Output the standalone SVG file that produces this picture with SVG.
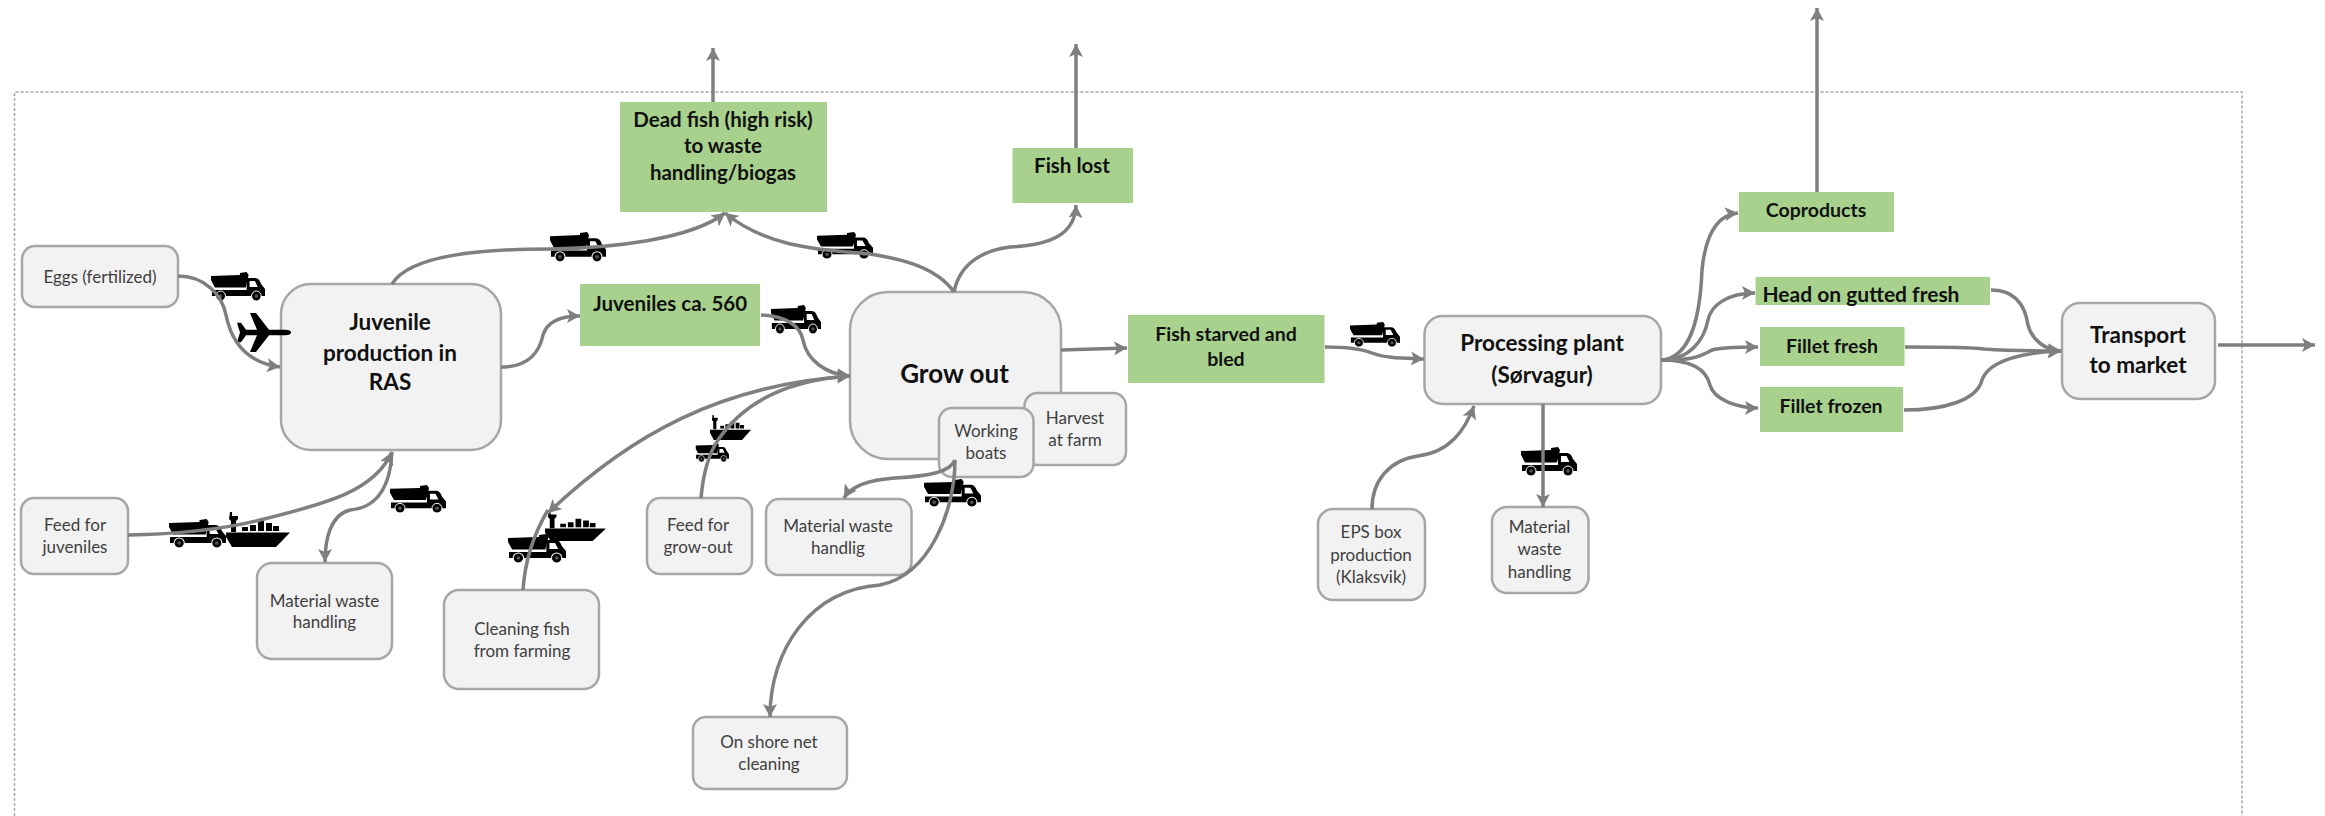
<svg xmlns="http://www.w3.org/2000/svg" width="2325" height="816" viewBox="0 0 2325 816">
<style>
text{font-family:"Lato","Carlito","Open Sans",sans-serif;text-anchor:middle}
.n rect{fill:#f2f2f2;stroke:#a6a6a6;stroke-width:2.5}
.g rect{fill:#a9d18e;stroke:none}
.s{font-size:17px;fill:#404040}
.m{font-size:19.5px;font-weight:700;fill:#111}
.w{font-size:20.500px}
.l{font-size:22.5px;font-weight:700;fill:#111}
.c path{fill:none;stroke:#7f7f7f;stroke-width:3.5;marker-end:url(#a)}
.c path.p{marker-end:none}
</style>
<defs>
<marker id="a" markerUnits="userSpaceOnUse" markerWidth="16" markerHeight="14" refX="13" refY="7" orient="auto"><path d="M0,0L13,7L0,14L3,7Z" fill="#7f7f7f"/></marker>
<symbol id="truck" viewBox="0 0 56 29" preserveAspectRatio="none">
<path d="M0,4L30,3V1L37,0L39,3L36,15.500H4L0,8Z"/>
<path d="M1,18H37V6H46Q50,6 52,12L56,17V24H1Z"/>
<path d="M40,9H45.500L48.500,15H40Z" fill="#fff"/>
<circle cx="10" cy="24" r="5" stroke="#fff"/><circle cx="47" cy="24" r="5" stroke="#fff"/>
<circle cx="10" cy="24" r="1.800" fill="#555"/><circle cx="47" cy="24" r="1.800" fill="#555"/>
</symbol>
<symbol id="ship" viewBox="0 0 64 35" preserveAspectRatio="none">
<path d="M4,0H6V4H12V7L10,9V20H5V9L3,7Z"/>
<path d="M16,15H22V19H16ZM24,13H30V19H24ZM32,9H38V19H32ZM40,11H46V19H40ZM47,14H53V19H47Z"/>
<path d="M0,20.500H64L50,35H6L0,25Z"/>
</symbol>
<symbol id="plane" viewBox="0 0 54 44" preserveAspectRatio="none">
<path d="M54,22Q54,19 48,19H32L19,0H13L20,19H9L4,11H0L3,22L0,33H4L9,25H20L13,44H19L32,25H48Q54,25 54,22Z"/>
</symbol>
</defs>
<path id="frame" d="M14.500,816V92H2242V816" fill="none" stroke="#a6a6a6" stroke-width="1.500" stroke-dasharray="3 2"/>
<g id="nodes">
<g id="eggs" class="n"><rect x="22" y="246" width="156" height="61" rx="13"/><text class="s" x="100" y="283">Eggs (fertilized)</text></g>
<g id="juvenile" class="n"><rect x="281" y="284" width="220" height="166" rx="30"/><text class="l" x="390" y="330">Juvenile</text><text class="l" x="390" y="361">production in</text><text class="l" x="390" y="390">RAS</text></g>
<g id="feed-juveniles" class="n"><rect x="21" y="498" width="107" height="76" rx="13"/><text class="s" x="75" y="531">Feed for</text><text class="s" x="75" y="553">juveniles</text></g>
<g id="waste-1" class="n"><rect x="257" y="563" width="135" height="96" rx="15"/><text class="s" x="324.500" y="607">Material waste</text><text class="s" x="324.500" y="628">handling</text></g>
<g id="cleaning" class="n"><rect x="444" y="590" width="155" height="99" rx="15"/><text class="s" x="522" y="635">Cleaning fish</text><text class="s" x="522" y="657">from farming</text></g>
<g id="dead-fish" class="g"><rect x="620" y="102" width="207" height="110"/><text class="m w" x="723" y="127">Dead fish (high risk)</text><text class="m w" x="723" y="153">to waste</text><text class="m w" x="723" y="180">handling/biogas</text></g>
<g id="fish-lost" class="g"><rect x="1012.500" y="148" width="120.500" height="55"/><text class="m w" x="1072" y="173">Fish lost</text></g>
<g id="juveniles" class="g"><rect x="580" y="284" width="180" height="62"/><text class="m w" x="670" y="311">Juveniles ca. 560</text></g>
<g id="grow-out" class="n"><rect x="850" y="292" width="211" height="167" rx="38"/><text class="l" x="954.500" y="383" style="font-size:26px">Grow out</text></g>
<g id="harvest" class="n"><rect x="1024.500" y="393" width="101.500" height="72" rx="13"/><text class="s" x="1075" y="424">Harvest</text><text class="s" x="1075" y="446">at farm</text></g>
<g id="working-boats" class="n"><rect x="939" y="408" width="94.500" height="69" rx="13"/><text class="s" x="986" y="437">Working</text><text class="s" x="986" y="459">boats</text></g>
<g id="feed-growout" class="n"><rect x="647" y="498" width="105" height="76" rx="13"/><text class="s" x="698" y="531">Feed for</text><text class="s" x="698" y="553">grow-out</text></g>
<g id="waste-2" class="n"><rect x="766" y="499" width="145.500" height="76" rx="13"/><text class="s" x="838" y="532">Material waste</text><text class="s" x="838" y="554">handlig</text></g>
<g id="net-cleaning" class="n"><rect x="693" y="717" width="154" height="72" rx="13"/><text class="s" x="769" y="748">On shore net</text><text class="s" x="769" y="770">cleaning</text></g>
<g id="fish-starved" class="g"><rect x="1128" y="315" width="196.500" height="68"/><text class="m" x="1226" y="341">Fish starved and</text><text class="m" x="1226" y="366">bled</text></g>
<g id="processing" class="n"><rect x="1424.500" y="316" width="236.500" height="88" rx="18"/><text class="l" x="1542" y="351">Processing plant</text><text class="l" x="1542" y="383">(Sørvagur)</text></g>
<g id="eps" class="n"><rect x="1318" y="509" width="107" height="91" rx="15"/><text class="s" x="1371" y="538">EPS box</text><text class="s" x="1371" y="561">production</text><text class="s" x="1371" y="583">(Klaksvik)</text></g>
<g id="waste-3" class="n"><rect x="1492" y="507" width="96.500" height="86" rx="15"/><text class="s" x="1539.500" y="533">Material</text><text class="s" x="1539.500" y="555">waste</text><text class="s" x="1539.500" y="578">handling</text></g>
<g id="coproducts" class="g"><rect x="1739" y="192" width="155" height="40"/><text class="m" x="1816" y="217">Coproducts</text></g>
<g id="head-on" class="g"><rect x="1755.500" y="277" width="234.500" height="28"/><text class="m" x="1861" y="302" style="font-size:21px">Head on gutted fresh</text></g>
<g id="fillet-fresh" class="g"><rect x="1760" y="327" width="144.500" height="39"/><text class="m" x="1832" y="353">Fillet fresh</text></g>
<g id="fillet-frozen" class="g"><rect x="1760" y="387" width="143" height="45"/><text class="m" x="1831" y="413">Fillet frozen</text></g>
<g id="transport" class="n"><rect x="2062" y="303" width="153" height="96" rx="18"/><text class="l" x="2138" y="343">Transport</text><text class="l" x="2138" y="373">to market</text></g>
</g>
<g id="icons">
<use href="#truck" x="211" y="272" width="54" height="29"/>
<use href="#plane" x="237" y="313" width="54" height="39"/>
<use href="#truck" x="550" y="232" width="56" height="30"/>
<use href="#truck" x="817" y="232" width="56" height="27"/>
<use href="#truck" x="771" y="305" width="50" height="29"/>
<use href="#ship" x="226" y="512" width="64" height="35"/>
<use href="#truck" x="169" y="519" width="57" height="29"/>
<use href="#truck" x="390" y="485" width="56" height="28"/>
<use href="#ship" x="545" y="511" width="61" height="30"/>
<use href="#truck" x="508" y="534" width="58" height="29"/>
<use href="#ship" x="710" y="415" width="41" height="25"/>
<use href="#truck" x="695.500" y="443" width="33.500" height="19"/>
<use href="#truck" x="924" y="479" width="57" height="28"/>
<use href="#truck" x="1350" y="322" width="50" height="25"/>
<use href="#truck" x="1521" y="447" width="56" height="29"/>
</g>
<g id="connectors" class="c">
<path d="M713,102V48"/>
<path d="M1076,148V44"/>
<path d="M1817,192V8"/>
<path d="M178,276C205,276 222,295 226,315C232,345 250,363 280,367"/>
<path d="M392,284C410,255 480,249 551,249C610,248 690,240 725,213"/>
<path d="M954,292C935,265 895,258 870,254C830,250 770,250 725,213"/>
<path d="M954,292C960,262 985,250 1010,247C1050,245 1075,235 1076,205"/>
<path d="M501,367C530,367 540,350 543,335C547,322 560,316 580,316"/>
<path d="M761,315C785,316 800,325 803,340C807,360 825,374 850,376"/>
<path d="M1061,350L1127,348"/>
<path d="M850,376C720,385 630,435 548,513"/>
<path class="p" d="M523,590C525,560 533,535 548,510"/>
<path d="M701,498C703,475 708,455 718,440C745,400 790,380 850,376"/>
<path d="M128,535C180,534 220,530 260,520C330,503 375,490 392,452"/>
<path d="M392,452C390,490 375,508 350,510C330,515 325,540 325,562"/>
<path d="M955,460C950,472 930,476 895,478C865,480 850,488 844,498"/>
<path d="M955,460C955,510 930,575 880,585C810,590 770,650 770,717"/>
<path d="M1325,347C1350,347 1362,349 1372,353C1385,358 1400,358 1424,359"/>
<path d="M1372,509C1372,480 1390,460 1418,456C1450,452 1465,430 1474,406"/>
<path d="M1543,404V507"/>
<path d="M1661,360C1690,358 1700,320 1702,270C1705,240 1715,215 1738,213"/>
<path d="M1661,360C1690,360 1704,340 1708,320C1711,305 1728,293 1755,293"/>
<path d="M1661,360C1690,360 1698,358 1712,350C1722,347 1738,347 1758,347"/>
<path d="M1661,360C1690,360 1706,368 1710,385C1714,400 1738,408 1758,408"/>
<path d="M1991,290C2015,290 2025,305 2028,325C2032,340 2045,350 2061,351"/>
<path d="M1905,347C1945,347 1970,347 1984,349C2014,351 2040,351 2061,351"/>
<path d="M1904,410C1945,410 1977,400 1982,380C1989,360 2025,352 2061,351"/>
<path d="M2218,345H2315"/>
</g>
</svg>
